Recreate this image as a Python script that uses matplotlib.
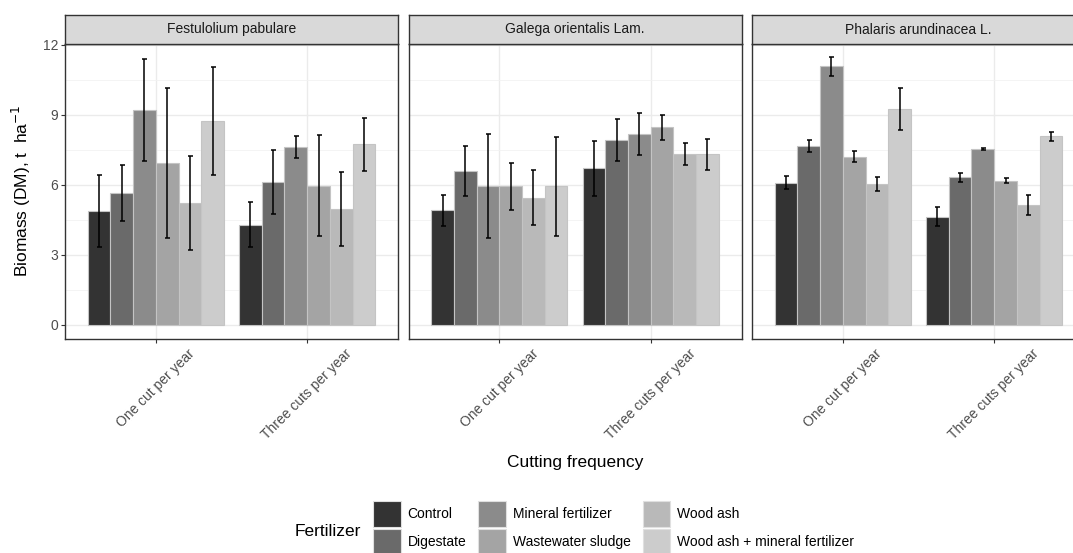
import matplotlib
matplotlib.use("Agg")
import matplotlib.pyplot as plt
from matplotlib.patches import Patch
import numpy as np

plt.rcParams['font.family'] = ['Liberation Sans', 'DejaVu Sans']

# ---------------------------------------------------------------- data
species = ["Festulolium pabulare", "Galega orientalis Lam.", "Phalaris arundinacea L."]
frequencies = ["One cut per year", "Three cuts per year"]
fertilizers = ["Control", "Digestate", "Mineral fertilizer",
               "Wastewater sludge", "Wood ash", "Wood ash + mineral fertilizer"]

# mean biomass, rows = cutting frequency, cols = fertilizer
festulolium_mean = [[4.87, 5.65, 9.20, 6.95, 5.22, 8.74],
                    [4.30, 6.12, 7.62, 5.97, 4.97, 7.74]]
festulolium_sd = [[1.54, 1.20, 2.20, 3.21, 2.02, 2.31],
                  [0.98, 1.38, 0.46, 2.17, 1.60, 1.14]]

galega_mean = [[4.91, 6.60, 5.94, 5.93, 5.45, 5.93],
               [6.70, 7.91, 8.17, 8.47, 7.31, 7.30]]
galega_sd = [[0.66, 1.06, 2.22, 1.00, 1.17, 2.11],
             [1.19, 0.90, 0.89, 0.53, 0.47, 0.67]]

phalaris_mean = [[6.10, 7.66, 11.07, 7.20, 6.04, 9.25],
                 [4.64, 6.32, 7.53, 6.18, 5.13, 8.08]]
phalaris_sd = [[0.29, 0.26, 0.39, 0.23, 0.31, 0.91],
               [0.39, 0.19, 0.03, 0.10, 0.43, 0.20]]

fills = ["#333333", "#6A6A6A", "#8B8B8B", "#A4A4A4", "#B9B9B9", "#CCCCCC"]

# ---------------------------------------------------------------- layout
W, H = 1073, 553
fig = plt.figure(figsize=(W / 100, H / 100), dpi=100)


def px_box(left, top, width, height):
    return [left / W, 1 - (top + height) / H, width / W, height / H]


panel_top, panel_bottom = 44, 339
strip_h = 29
panel_w = 333
lefts = [65, 408.5, 752]

means = [festulolium_mean, galega_mean, phalaris_mean]
sds = [festulolium_sd, galega_sd, phalaris_sd]

n_fert = len(fertilizers)
dodge = 0.9
bar_w = dodge / n_fert
x_base = np.arange(1, len(frequencies) + 1)

for k, name in enumerate(species):
    ax = fig.add_axes(px_box(lefts[k], panel_top, panel_w, panel_bottom - panel_top))
    m = np.array(means[k])
    s = np.array(sds[k])
    for j in range(n_fert):
        xs = x_base - dodge / 2 + bar_w * (j + 0.5)
        ax.bar(xs, m[:, j], width=bar_w, color=fills[j], edgecolor="#C4C4C4",
               linewidth=0.8, zorder=2)
        ax.errorbar(xs, m[:, j], yerr=s[:, j], fmt="none", ecolor="black",
                    elinewidth=1.1, capsize=1.8, capthick=1.1, zorder=3)

    ax.set_xlim(0.4, 2.6)
    ax.set_ylim(-0.6, 12.03)
    ax.set_yticks([0, 3, 6, 9, 12])
    ax.set_yticks([1.5, 4.5, 7.5, 10.5], minor=True)
    ax.set_xticks(x_base)
    ax.set_xticklabels(frequencies, rotation=45, ha="center", va="top",
                       fontsize=10, color="#4D4D4D")
    ax.grid(which="major", color="#EBEBEB", linewidth=1.0, zorder=0)
    ax.grid(which="minor", axis="y", color="#F2F2F2", linewidth=0.6, zorder=0)
    ax.set_axisbelow(True)
    ax.tick_params(axis="both", which="major", length=2.7, width=0.8,
                   color="#333333", labelsize=10, labelcolor="#4D4D4D")
    ax.tick_params(axis="x", pad=3)
    ax.tick_params(axis="y", pad=2)
    ax.tick_params(which="minor", length=0)
    if k > 0:
        ax.tick_params(axis="y", which="major", length=0, labelleft=False)
    for sp in ax.spines.values():
        sp.set_color("#333333")
        sp.set_linewidth(1.0)
        sp.set_zorder(4)

    # facet strip
    sax = fig.add_axes(px_box(lefts[k], panel_top - strip_h, panel_w, strip_h))
    sax.set_facecolor("#D9D9D9")
    sax.set_xticks([])
    sax.set_yticks([])
    for sp in sax.spines.values():
        sp.set_color("#333333")
        sp.set_linewidth(1.0)
    sax.text(0.5, 0.5, name, ha="center", va="center", fontsize=10,
             color="#1A1A1A", transform=sax.transAxes)

# axis titles
fig.text(21 / W, 1 - 191 / H, "Biomass (DM), t  ha$^{-1}$", rotation=90,
         ha="center", va="center", fontsize=12.5, color="black")
fig.text(575 / W, 1 - 463 / H, "Cutting frequency", ha="center", va="center",
         fontsize=12.5, color="black")

# legend
handles = [Patch(facecolor=c, edgecolor="#E0E0E0", linewidth=0.8) for c in fills]
fig.legend(handles, fertilizers, ncol=3, loc="upper left",
           bbox_to_anchor=(373 / W, 1 - 501 / H), frameon=False, fontsize=10,
           handlelength=2.0, handleheight=2.5, labelspacing=0.14,
           handletextpad=0.5, columnspacing=0.85, borderpad=0, borderaxespad=0)
fig.text(328 / W, 1 - 531 / H, "Fertilizer", ha="center", va="center",
         fontsize=12.5, color="black")

fig.savefig("out.png", dpi=100)
